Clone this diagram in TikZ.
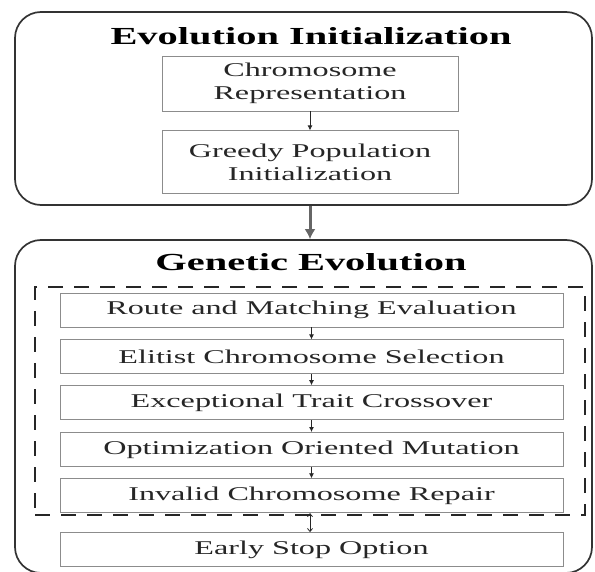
\documentclass[tikz,border=0pt]{standalone}
\usepackage{fontspec}
\setmainfont{Liberation Serif}[FakeStretch=1.65]
\usetikzlibrary{positioning, arrows.meta}

\begin{document}
\begin{tikzpicture}[
  x=1pt, y=1pt,
  font=\fontsize{19.5}{23}\selectfont,
  >={Latex[length=5pt, width=5pt]},
  stage/.style={draw=black!80, line width=1.7pt, rounded corners=26pt, inner sep=0pt},
  group/.style={draw=black!85, line width=1.6pt, dash pattern=on 15pt off 11pt, inner sep=0pt},
  title/.style={font=\fontsize{24.5}{28}\selectfont\bfseries, text=black},
  stepbox/.style={draw=black!45, line width=0.8pt, minimum width=503pt, minimum height=34pt,
                  inner sep=0pt, text=black!85, align=center},
  initbox/.style={stepbox, minimum width=296pt, minimum height=55pt},
  flow/.style={->, line width=0.8pt, black!85},
  bigflow/.style={-{Latex[length=10pt, width=11pt]}, line width=3pt, black!60},
]
\useasboundingbox (0,0) rectangle (595,-572);
% stage 1: initialization
\node[stage, minimum width=577pt, minimum height=193pt] (init) at (303.5,-108.5) {};
\node[title] (initT) at (311,-36) {Evolution Initialization};
\node[initbox] (chrom) at (310,-83.5) {Chromosome\\Representation};
\node[initbox, minimum height=63pt, below=19pt of chrom] (greedy) {Greedy Population\\Initialization};
\draw[flow] (chrom) -- (greedy);
% stage 2: evolution
\node[stage, minimum width=577pt, minimum height=333pt] (evo) at (303.5,-406.5) {};
\node[title] (evoT) at (311,-262) {Genetic Evolution};
\node[group, minimum width=550pt, minimum height=228pt] (loop) at (310,-401) {};
\node[stepbox] (route) at (311.5,-310) {Route and Matching Evaluation};
\node[stepbox, below=12pt of route] (elit) {Elitist Chromosome Selection};
\node[stepbox, below=11pt of elit] (cross) {Exceptional Trait Crossover};
\node[stepbox, below=12pt of cross] (mut) {Optimization Oriented Mutation};
\node[stepbox, below=11.5pt of mut] (repair) {Invalid Chromosome Repair};
\node[stepbox, below=19pt of repair] (stop) {Early Stop Option};
% flows
\draw[bigflow] (greedy.south |- init.south) -- (greedy.south |- evo.north);
\draw[flow] (route) -- (elit);
\draw[flow] (elit) -- (cross);
\draw[flow] (cross) -- (mut);
\draw[flow] (mut) -- (repair);
\draw[flow, <->, >={Straight Barb[length=3pt, width=5pt]}] (repair.south -| greedy.south) -- (stop.north -| greedy.south);
\end{tikzpicture}
\end{document}
